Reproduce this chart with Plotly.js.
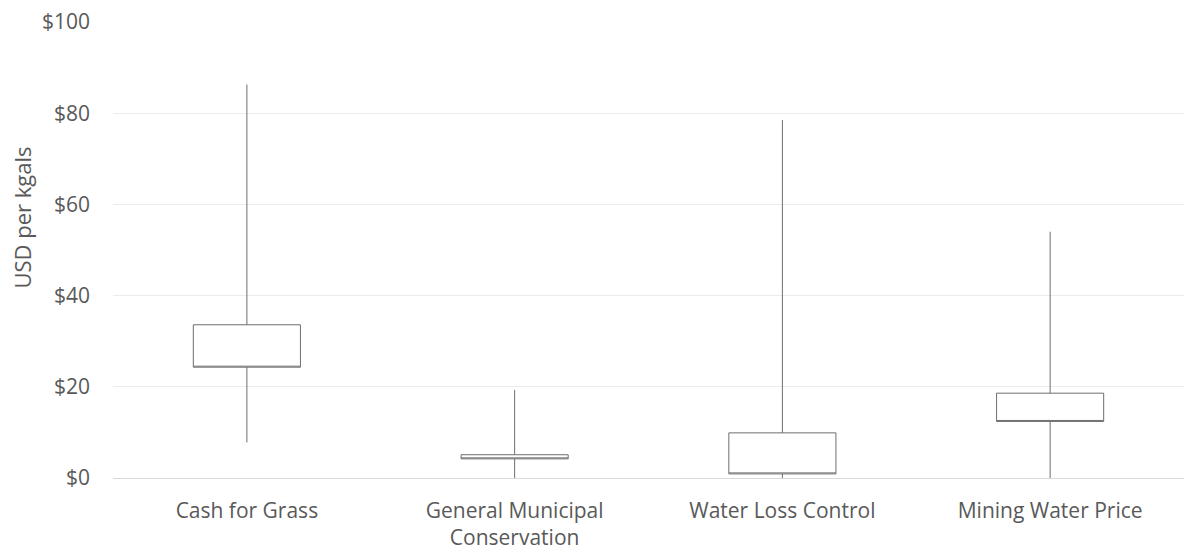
<!DOCTYPE html>
<html>
<head>
<meta charset="utf-8">
<script src="https://cdn.plot.ly/plotly-3.0.1.min.js"></script>
<style>html,body{margin:0;padding:0;background:#fff;}#chart{width:1185px;height:557px;}</style>
</head>
<body>
<div id="chart"></div>
<script>
var categories = ["Cash for Grass", "General Municipal<br>Conservation", "Water Loss Control", "Mining Water Price"];
var minValues = [7.8, 0, 0, 0];
var q1Values = [24.3, 4.2, 0.9, 12.4];
var q3Values = [33.6, 5.1, 9.9, 18.6];
var maxValues = [86.3, 19.3, 78.5, 54.0];
var yTickVals = [0, 20, 40, 60, 80, 100];
var yTickText = ["$0", "$20", "$40", "$60", "$80", "$100"];

var FONT = "'Open Sans', sans-serif";
var trace = {
  type: "box",
  x: categories,
  q1: q1Values,
  median: q1Values,
  q3: q3Values,
  lowerfence: minValues,
  upperfence: maxValues,
  width: 0.4,
  whiskerwidth: 0,
  fillcolor: "#ffffff",
  line: {color: "#6e6e6e", width: 1},
  boxpoints: false,
  hoverinfo: "skip",
  showlegend: false
};

var layout = {
  width: 1185,
  height: 557,
  margin: {l: 113, r: 1, t: 22, b: 79},
  paper_bgcolor: "#ffffff",
  plot_bgcolor: "#ffffff",
  font: {family: FONT, color: "#595959", size: 21},
  xaxis: {
    type: "category",
    range: [-0.5, 3.5],
    showgrid: false,
    zeroline: false,
    showline: false,
    ticks: "",
    ticklabelstandoff: 18,
    tickfont: {family: FONT, size: 21, color: "#595959"}
  },
  yaxis: {
    range: [0, 100],
    tickvals: yTickVals,
    ticktext: yTickText,
    showgrid: true,
    gridcolor: "#ebebeb",
    gridwidth: 1,
    zeroline: true,
    zerolinecolor: "#d9d9d9",
    zerolinewidth: 1,
    showline: false,
    ticks: "",
    ticklabelstandoff: 22,
    tickfont: {family: FONT, size: 21, color: "#595959"}
  },
  annotations: [{
    text: "USD per kgals",
    textangle: -90,
    xref: "paper", yref: "paper",
    x: -0.0845, y: 0.57,
    xanchor: "center", yanchor: "middle",
    showarrow: false,
    font: {family: FONT, size: 22, color: "#595959"}
  }]
};

Plotly.newPlot("chart", [trace], layout, {displayModeBar: false, staticPlot: true});
</script>
</body>
</html>
